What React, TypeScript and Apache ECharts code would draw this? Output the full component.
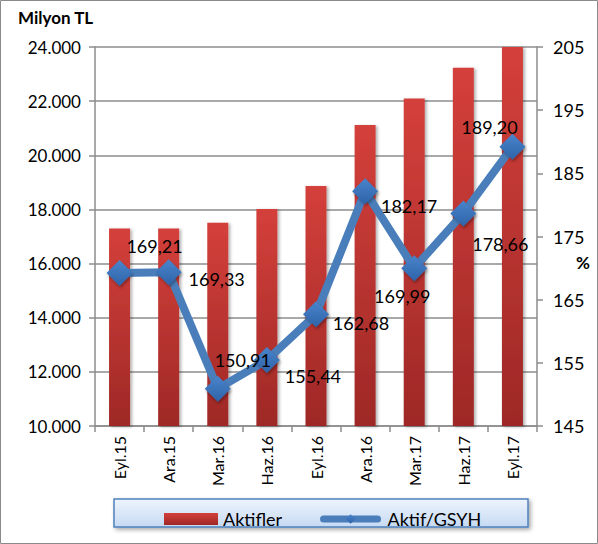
import React, { useEffect, useRef } from "react";
import * as echarts from "echarts";

const categories = ["Eyl.15", "Ara.15", "Mar.16", "Haz.16", "Eyl.16", "Ara.16", "Mar.17", "Haz.17", "Eyl.17"];
const aktifler = [17300, 17300, 17510, 18020, 18870, 21120, 22100, 23230, 24000];
const aktifGsyh = [169.21, 169.33, 150.91, 155.44, 162.68, 182.17, 169.99, 178.66, 189.2];
const labelOffsets: [number, number][] = [
  [35, -27], [48, 7], [25, -29], [46, 16], [45, 9], [44, 15], [-12, 28], [37, 31], [-23, -20],
];
const leftTicks = { min: 10000, max: 24000, interval: 2000 };
const rightTicks = { min: 145, max: 205, interval: 10 };

const FONT = "Lato, 'Open Sans', sans-serif";

export default function App() {
  const ref = useRef<HTMLDivElement>(null);
  useEffect(() => {
    document.body.style.margin = "0";
    const chart = echarts.init(ref.current!, null, { renderer: "svg" });
    const fmtThousands = (v: number) => {
      const s = String(Math.round(v));
      return s.replace(/\B(?=(\d{3})+(?!\d))/g, ".");
    };
    chart.setOption({
      animation: false,
      textStyle: { fontFamily: FONT },
      grid: { left: 95, right: 61, top: 47, bottom: 118, containLabel: false },
      graphic: [
        {
          type: "rect",
          shape: { x: 0.5, y: 0.5, width: 597, height: 543 },
          style: { fill: "none", stroke: "#8a8a8a", lineWidth: 1 },
          silent: true,
        },
        {
          type: "rect",
          z: 0,
          shape: { x: 114, y: 499, width: 414, height: 28 },
          style: {
            fill: new echarts.graphic.LinearGradient(0, 0, 0, 1, [
              { offset: 0, color: "#eef4fc" },
              { offset: 1, color: "#c6daf3" },
            ]),
            stroke: "#4f81bd",
            lineWidth: 1.5,
            shadowBlur: 4,
            shadowOffsetX: 2,
            shadowOffsetY: 2,
            shadowColor: "rgba(0,0,0,0.35)",
          },
          silent: true,
        },
        {
          type: "text",
          left: 18,
          top: 9,
          style: { text: "Milyon TL", font: `bold 17px ${FONT}`, fill: "#000" },
        },
        {
          type: "text",
          left: 576,
          top: 254,
          style: { text: "%", font: `bold 17px ${FONT}`, fill: "#000" },
        },
      ],
      legend: {
        left: 159,
        top: 505,
        itemWidth: 54,
        itemHeight: 12,
        itemGap: 38,
        z: 5,
        textStyle: { fontSize: 18, color: "#000", fontFamily: FONT },
        data: [
          { name: "Aktifler", icon: "rect" },
          {
            name: "Aktif/GSYH",
            lineStyle: { width: 7, cap: "round", color: "#4a7ebb" },
            textStyle: { padding: [0, 0, 0, 5] },
          },
        ],
      },
      xAxis: {
        type: "category",
        data: categories,
        boundaryGap: true,
        axisLine: { lineStyle: { color: "#8c8c8c", width: 1.5 } },
        axisTick: { show: true, length: 6, lineStyle: { color: "#8c8c8c", width: 1.5 } },
        axisLabel: { rotate: 90, fontSize: 16, color: "#000", margin: 10, fontFamily: FONT },
      },
      yAxis: [
        {
          type: "value",
          min: leftTicks.min,
          max: leftTicks.max,
          interval: leftTicks.interval,
          axisLine: { show: true, lineStyle: { color: "#8c8c8c", width: 1.5 } },
          axisTick: { show: true, length: 6, lineStyle: { color: "#8c8c8c", width: 1.5 } },
          splitLine: { show: true, lineStyle: { color: "#8c8c8c", width: 1.5 } },
          axisLabel: { fontSize: 17, color: "#000", margin: 14, formatter: fmtThousands, fontFamily: FONT },
        },
        {
          type: "value",
          min: rightTicks.min,
          max: rightTicks.max,
          interval: rightTicks.interval,
          position: "right",
          axisLine: { show: true, lineStyle: { color: "#8c8c8c", width: 1.5 } },
          axisTick: { show: true, length: 6, lineStyle: { color: "#8c8c8c", width: 1.5 } },
          splitLine: { show: false },
          axisLabel: { fontSize: 18, color: "#000", margin: 16, fontFamily: FONT },
        },
      ],
      series: [
        {
          name: "Aktifler",
          type: "bar",
          yAxisIndex: 0,
          barWidth: 21,
          data: aktifler,
          itemStyle: {
            color: new echarts.graphic.LinearGradient(0, 0, 0, 1, [
              { offset: 0, color: "#d4403b" },
              { offset: 1, color: "#9e2826" },
            ]),
            shadowBlur: 3,
            shadowOffsetX: 2,
            shadowOffsetY: 1,
            shadowColor: "rgba(0,0,0,0.3)",
          },
        },
        {
          name: "Aktif/GSYH",
          type: "line",
          yAxisIndex: 1,
          data: aktifGsyh.map((v, i) => ({
            value: v,
            label: { offset: labelOffsets[i] },
          })),
          symbol: "diamond",
          symbolSize: 26,
          lineStyle: { color: "#4a7ebb", width: 8 },
          itemStyle: {
            color: new echarts.graphic.LinearGradient(0, 0, 0, 1, [
              { offset: 0, color: "#4a84cc" },
              { offset: 1, color: "#2e63a8" },
            ]),
            borderColor: "#4a7ebb",
            borderWidth: 0,
            shadowBlur: 3,
            shadowOffsetX: 1,
            shadowOffsetY: 2,
            shadowColor: "rgba(0,0,0,0.35)",
          },
          color: "#4a7ebb",
          z: 3,
          label: {
            show: true,
            position: "inside",
            fontSize: 18,
            color: "#000",
            fontFamily: FONT,
            formatter: (p: any) => Number(p.value).toFixed(2).replace(".", ","),
          },
        },
      ],
    });
    return () => chart.dispose();
  }, []);
  return <div ref={ref} style={{ position: "absolute", left: 0, top: 0, width: 598, height: 544 }} />;
}
